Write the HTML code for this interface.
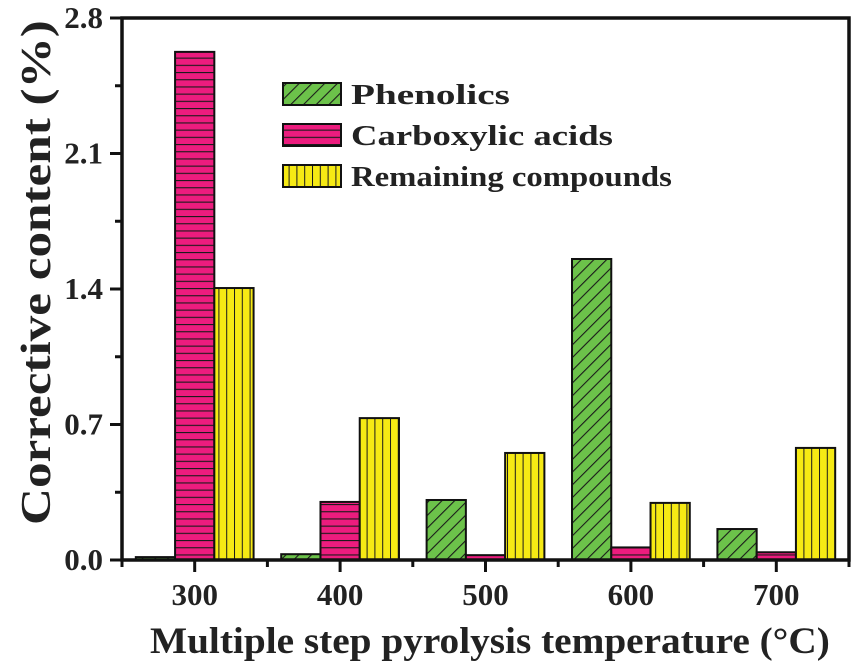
<!DOCTYPE html>
<html><head><meta charset="utf-8"><style>
html,body{margin:0;padding:0;background:#fff;width:852px;height:666px;overflow:hidden}
svg{display:block;font-family:"Liberation Serif",serif;font-weight:bold}
</style></head><body>
<svg id="chart" width="852" height="666">
<defs>
<pattern id="pGreen" patternUnits="userSpaceOnUse" width="9" height="9" patternTransform="rotate(45)">
<rect width="9" height="9" fill="#6cc24a"/><line x1="0" y1="0" x2="0" y2="9" stroke="#1a1a1a" stroke-width="2.2"/></pattern>
<pattern id="pPink" patternUnits="userSpaceOnUse" width="8" height="7.2">
<rect width="8" height="7.2" fill="#ec1c7e"/><line x1="0" y1="0" x2="8" y2="0" stroke="#1a1a1a" stroke-width="2.2"/></pattern>
<pattern id="pYellow" patternUnits="userSpaceOnUse" width="7.8" height="8">
<rect width="7.8" height="8" fill="#f6ea14"/><line x1="0" y1="0" x2="0" y2="8" stroke="#1a1a1a" stroke-width="2"/></pattern>
</defs>
<g id="bars"></g>
<g id="axes"></g>
<g id="legend"></g>
</svg>
<script>
const categories = [300, 400, 500, 600, 700];
const phenolics = [0.015, 0.03, 0.31, 1.555, 0.16];
const carboxylic = [2.625, 0.30, 0.025, 0.065, 0.04];
const remaining = [1.405, 0.733, 0.553, 0.295, 0.579];
const yTicks = [0, 0.7, 1.4, 2.1, 2.8];
const yTickLabels = ["0.0", "0.7", "1.4", "2.1", "2.8"];
const seriesNames = ["Phenolics", "Carboxylic acids", "Remaining compounds"];

const NS = "http://www.w3.org/2000/svg";
const L = 122, R = 849, T = 18, B = 560;
const xMin = 250, xMax = 750, yMax = 2.8;
function xs(v){ return L + (v - xMin) / (xMax - xMin) * (R - L); }
function ys(v){ return B - v / yMax * (B - T); }
function mk(tag, attrs, parent){ const e = document.createElementNS(NS, tag); for (const k in attrs) e.setAttribute(k, attrs[k]); parent.appendChild(e); return e; }
function stretch(t, x, y, target, rot){
  const w = t.getComputedTextLength();
  const sx = w > 0 ? target / w : 1;
  t.setAttribute('transform', 'translate(' + x + ',' + y + ')' + (rot ? ' rotate(-90)' : '') + ' scale(' + sx + ',1)');
}

const barsG = document.getElementById('bars');
const fills = ["url(#pGreen)", "url(#pPink)", "url(#pYellow)"];
const series = [phenolics, carboxylic, remaining];
const bw = 27 * (R - L) / (xMax - xMin);
series.forEach((s, si) => {
  s.forEach((v, ci) => {
    const cx = xs(categories[ci]) + (si - 1) * bw;
    const r = mk('rect', {x: cx - bw/2, y: ys(v), width: bw, height: ys(0) - ys(v), fill: fills[si], stroke: "#111", "stroke-width": 2}, barsG);
    
    
  });
});

const ax = document.getElementById('axes');
const frame = mk('rect', {x: L, y: T, width: R - L, height: B - T, fill: "none", stroke: "#111", "stroke-width": 3.5}, ax);


yTicks.forEach((t, i) => {
  mk('line', {x1: L - 12, x2: L, y1: ys(t), y2: ys(t), stroke: "#111", "stroke-width": 3}, ax);
  if (i < yTicks.length - 1) mk('line', {x1: L - 7, x2: L, y1: ys(t + 0.35), y2: ys(t + 0.35), stroke: "#111", "stroke-width": 3}, ax);
  const tx = mk('text', {x: L - 19, y: ys(t) + 10, "text-anchor": "end", "font-size": 31, fill: "#222"}, ax);
  tx.textContent = yTickLabels[i];
  
  
});
categories.forEach((c, i) => {
  mk('line', {x1: xs(c), x2: xs(c), y1: B, y2: B + 12, stroke: "#111", "stroke-width": 3}, ax);
  mk('line', {x1: xs(c + 50), x2: xs(c + 50), y1: B, y2: B + 7, stroke: "#111", "stroke-width": 3}, ax);
  const tx = mk('text', {x: xs(c), y: 605, "text-anchor": "middle", "font-size": 31, fill: "#222"}, ax);
  tx.textContent = c;
  
  
});
mk('line', {x1: xs(250), x2: xs(250), y1: B, y2: B + 7, stroke: "#111", "stroke-width": 3}, ax);
const xt = mk('text', {x: 0, y: 0, "font-size": 37, fill: "#222"}, ax);
xt.textContent = "Multiple step pyrolysis temperature (°C)";


stretch(xt, 150, 653, 680, false);
const yt = mk('text', {x: 0, y: 0, "font-size": 42, fill: "#222"}, ax);
yt.textContent = "Corrective content (%)";


stretch(yt, 50, 525, 505, true);

const lg = document.getElementById('legend');
const ly = [83, 124, 165];
const lw = [159, 262, 321];
seriesNames.forEach((n, i) => {
  const g = mk('g', {}, lg);
  
  
  mk('rect', {x: 283, y: ly[i], width: 58, height: 22, fill: fills[i], stroke: "#111", "stroke-width": 2}, g);
  const t = mk('text', {x: 0, y: 0, "font-size": 29, fill: "#222"}, g);
  t.textContent = n;
  stretch(t, 351, ly[i] + 21, lw[i], false);
});
</script>
</body></html>
